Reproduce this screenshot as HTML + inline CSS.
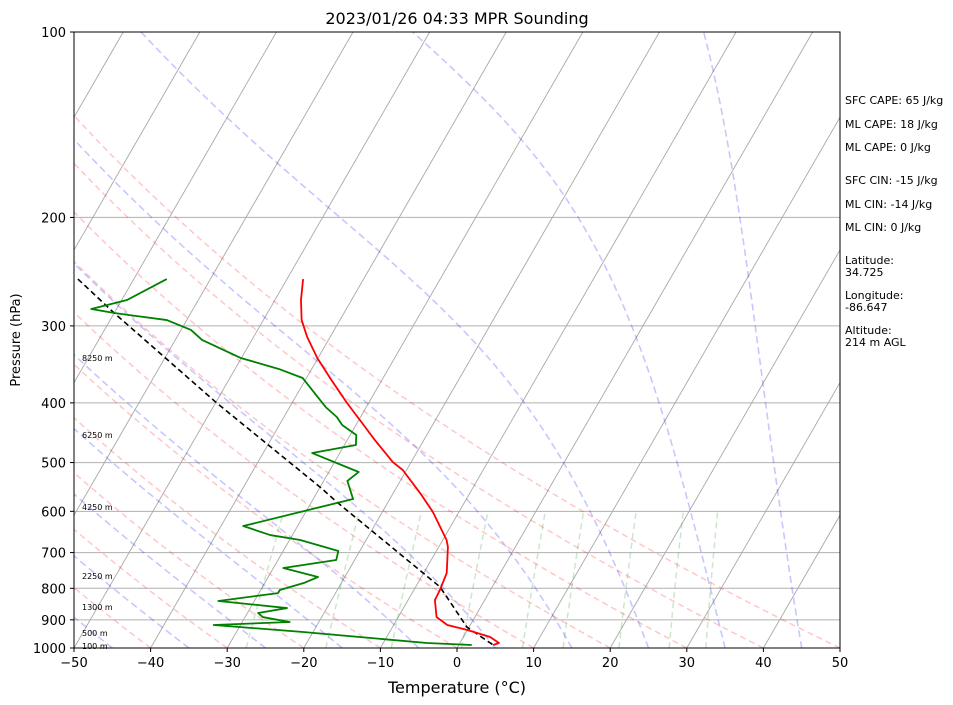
<!DOCTYPE html>
<html><head><meta charset="utf-8">
<style>
html,body{margin:0;padding:0;background:#fff;}
svg{display:block;font-family:"DejaVu Sans","Liberation Sans",sans-serif;}
</style></head>
<body>
<svg id="chart" width="953" height="705" viewBox="0 0 953 705" xmlns="http://www.w3.org/2000/svg">
<defs><clipPath id="clip"><rect x="74" y="32" width="766" height="616"/></clipPath></defs>
<rect x="0" y="0" width="953" height="705" fill="#fff"/>
<text x="457" y="24" font-size="16" text-anchor="middle">2023/01/26 04:33 MPR Sounding</text>
<g id="grid" clip-path="url(#clip)"></g>
<g id="series" clip-path="url(#clip)"></g>
<rect x="74" y="32" width="766" height="616" fill="none" stroke="#000" stroke-width="1"/>
<g id="axes"></g>
<text x="457" y="693" font-size="16" text-anchor="middle">Temperature (°C)</text>
<text x="20" y="340" font-size="13" text-anchor="middle" transform="rotate(-90 20 340)">Pressure (hPa)</text>
<g font-size="11">
<text x="845" y="104">SFC CAPE: 65 J/kg</text>
<text x="845" y="128">ML CAPE: 18 J/kg</text>
<text x="845" y="151">ML CAPE: 0 J/kg</text>
<text x="845" y="184">SFC CIN: -15 J/kg</text>
<text x="845" y="208">ML CIN: -14 J/kg</text>
<text x="845" y="231">ML CIN: 0 J/kg</text>
<text x="845" y="264">Latitude:</text>
<text x="845" y="276">34.725</text>
<text x="845" y="299">Longitude:</text>
<text x="845" y="311">-86.647</text>
<text x="845" y="334">Altitude:</text>
<text x="845" y="346">214 m AGL</text>
</g>
<g font-size="8">
<text x="82" y="361">8250 m</text>
<text x="82" y="438">6250 m</text>
<text x="82" y="510">4250 m</text>
<text x="82" y="579">2250 m</text>
<text x="82" y="610">1300 m</text>
<text x="82" y="636">500 m</text>
<text x="82" y="649">100 m</text>
</g>
</svg>
<script>
// ---- data ----
const tempPressure = [251.8,272.3,293.5,312.7,338.2,367.2,400.4,434.5,459.6,499.0,514.1,560.3,601.4,667.9,685.5,755.3,805.1,835.8,890.8,917.6,935.0,959.7,981.5,988.9];
const tempValues   = [-47.9,-46.6,-45.0,-43.0,-40.1,-36.6,-32.8,-29.0,-26.4,-22.4,-20.5,-16.5,-13.4,-9.5,-8.8,-7.0,-6.6,-6.5,-5.0,-3.0,0.0,3.5,5.1,4.5];
const dewPressure  = [251.8,272.3,281.6,285.9,293.5,304.6,316.2,338.2,352.4,364.5,406.4,421.7,434.5,451.1,468.3,482.5,517.9,535.6,572.9,633.9,655.6,667.9,695.9,719.6,741.6,766.9,784.4,805.1,814.4,838.8,861.3,877.4,890.8,907.4,917.6,941.9,981.5,988.9];
const dewValues    = [-65.7,-69.3,-73.3,-70.0,-62.6,-58.7,-56.5,-50.1,-44.3,-40.5,-35.3,-33.1,-31.8,-29.2,-28.5,-33.6,-26.1,-26.9,-24.8,-37.1,-32.9,-28.6,-22.8,-22.4,-28.7,-23.5,-24.9,-27.5,-27.5,-34.7,-25.2,-28.6,-27.7,-23.8,-33.5,-21.3,-4.3,1.7];
const parcelPressure = [251.8,285.9,400.4,549.8,579.4,796.1,924.5,988.9];
const parcelValues   = [-77.3,-70.0,-49.8,-29.8,-26.7,-6.8,-0.3,4.5];
const xTicks = [-50,-40,-30,-20,-10,0,10,20,30,40,50];
const yTicks = [100,200,300,400,500,600,700,800,900,1000];
const isotherms = [-150,-140,-130,-120,-110,-100,-90,-80,-70,-60,-50,-40,-30,-20,-10,0,10,20,30,40,50];
const dryAdiabatT0 = [-50,-40,-30,-20,-10,0,10,20,30,40,50];
const moistAdiabatT0 = [-45,-35,-25,-15,-5,5,15,25,35,45,55,65];
const mixingRatios = [0.0004,0.001,0.002,0.004,0.007,0.01,0.016,0.024,0.032];

// ---- axes ----
const X0=74,X1=840,Y0=32,Y1=648,TMIN=-50,TMAX=50,PTOP=100,PBOT=1000;
const SKEW=Math.tan(Math.PI/6);
function yOf(p){return Y1-(Math.log10(PBOT/p)/Math.log10(PBOT/PTOP))*(Y1-Y0);}
function xOf(T,p){return X0+(T-TMIN)*(X1-X0)/(TMAX-TMIN)+(Y1-yOf(p))*SKEW;}
const NS="http://www.w3.org/2000/svg";
function mk(tag,attrs,parent){const e=document.createElementNS(NS,tag);for(const k in attrs)e.setAttribute(k,attrs[k]);parent.appendChild(e);return e;}
function pathFrom(ps,ts){return ps.map((p,i)=>(i?'L':'M')+xOf(ts[i],p).toFixed(2)+','+yOf(p).toFixed(2)).join('');}
const grid=document.getElementById('grid'),series=document.getElementById('series'),axes=document.getElementById('axes');

yTicks.forEach(p=>{
  const l=mk('line',{x1:X0,x2:X1,y1:yOf(p),y2:yOf(p),stroke:'#b0b0b0','stroke-width':1},grid);
  
  
});
isotherms.forEach(T=>{
  const l=mk('line',{x1:xOf(T,PBOT),y1:yOf(PBOT),x2:xOf(T,PTOP),y2:yOf(PTOP),stroke:'#a8a8a8','stroke-width':0.9},grid);
  
  
});
const levels=[];for(let p=1000;p>=100;p-=5)levels.push(p);
dryAdiabatT0.forEach(t0=>{
  const th=t0+273.15;const ts=levels.map(p=>th*Math.pow(p/1000,0.2857)-273.15);
  const e=mk('path',{d:pathFrom(levels,ts),fill:'none',stroke:'rgba(255,0,0,0.22)','stroke-width':1.5,'stroke-dasharray':'6,4'},grid);
  
  
});
function es(Tc){return 6.112*Math.exp(17.67*Tc/(Tc+243.5));}
moistAdiabatT0.forEach(t0=>{
  let T=t0+273.15;const ts=[];const ps=[];
  for(let i=0;i<levels.length;i++){
    ps.push(levels[i]);ts.push(T-273.15);
    if(i<levels.length-1){
      const p=levels[i],dp=levels[i+1]-p,n=10,h=dp/n;let pp=p;
      for(let k=0;k<n;k++){
        const e=es(T-273.15);
        const rs=0.622*e/Math.max(pp-e,1);
        const dTdp=(287*T+2.5e6*rs)/(1004+2.5e6*2.5e6*rs*0.622/(287*T*T))/pp;
        T+=dTdp*h;pp+=h;
      }
    }
  }
  const e=mk('path',{d:pathFrom(ps,ts),fill:'none',stroke:'rgba(0,0,255,0.22)','stroke-width':1.6,'stroke-dasharray':'7,4'},grid);
  
  
});
mixingRatios.forEach(w=>{
  const ps=[1000,900,800,700,600];
  const ts=ps.map(p=>{const e=w*p/(0.622+w);const l=Math.log(e/6.112);return 243.5*l/(17.67-l);});
  const e=mk('path',{d:pathFrom(ps,ts),fill:'none',stroke:'rgba(0,128,0,0.2)','stroke-width':1.5,'stroke-dasharray':'6,4'},grid);
  
  
});
const parcel=mk('path',{d:pathFrom(parcelPressure,parcelValues),fill:'none',stroke:'#000','stroke-width':1.6,'stroke-dasharray':'5.5,3.5'},series);


const dew=mk('path',{d:pathFrom(dewPressure,dewValues),fill:'none',stroke:'#008000','stroke-width':1.8,'stroke-linejoin':'round'},series);


const temp=mk('path',{d:pathFrom(tempPressure,tempValues),fill:'none',stroke:'#ff0000','stroke-width':1.8,'stroke-linejoin':'round'},series);


xTicks.forEach(T=>{
  const x=X0+(T-TMIN)*(X1-X0)/(TMAX-TMIN);
  const t=mk('line',{x1:x,x2:x,y1:Y1,y2:Y1+4,stroke:'#000','stroke-width':1},axes);
  
  
  const lb=mk('text',{x:x,y:Y1+19,'font-size':13,'text-anchor':'middle'},axes);
  lb.textContent=String(T).replace('-','\u2212');
  
  
});
yTicks.forEach(p=>{
  const y=yOf(p);
  const t=mk('line',{x1:X0-4,x2:X0,y1:y,y2:y,stroke:'#000','stroke-width':1},axes);
  
  
  const lb=mk('text',{x:X0-8,y:y+5,'font-size':13,'text-anchor':'end'},axes);
  lb.textContent=String(p);
  
  
});
</script>
</body></html>
